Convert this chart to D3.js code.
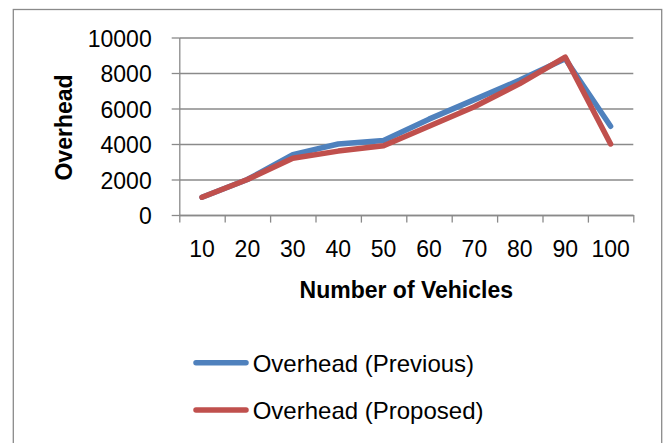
<!DOCTYPE html>
<html>
<head>
<meta charset="utf-8">
<script src="https://cdn.jsdelivr.net/npm/d3@7"></script>
<style>
  html, body { margin: 0; padding: 0; background: #fff; }
  svg { display: block; font-family: "Liberation Sans", Arial, sans-serif; }
</style>
</head>
<body>
<svg id="chart" width="666" height="443"></svg>
<script>
// Number of vehicles on the x axis
const vehicles = [10, 20, 30, 40, 50, 60, 70, 80, 90, 100];
// Overhead per scheme
const overheadPrevious = [1000, 2000, 3400, 4000, 4200, 5400, 6500, 7600, 8800, 5000];
const overheadProposed = [1000, 2000, 3200, 3600, 3900, 5000, 6100, 7400, 8900, 4000];
// Y axis tick values
const yTicks = [0, 2000, 4000, 6000, 8000, 10000];
const seriesNames = ["Overhead (Previous)", "Overhead (Proposed)"];
const seriesColors = ["#4F81BD", "#C0504D"];

const svg = d3.select("#chart");
const gridColor = "#8a8a8a";
const fontStack = "'Liberation Sans', Arial, sans-serif";

// outer chart frame
svg.append("rect")
  .attr("x", 13.3).attr("y", 9.5)
  .attr("width", 648.4).attr("height", 460)
  .attr("fill", "#fff")
  .attr("stroke", gridColor).attr("stroke-width", 1.3);

const plotLeft = 179.3, plotRight = 633.3, plotTop = 37.5, plotBottom = 215;

const x = d3.scaleBand().domain(vehicles).range([plotLeft, plotRight]).padding(0);
const xEdge = d3.scaleLinear().domain([0, vehicles.length]).range([plotLeft, plotRight]);
const y = d3.scaleLinear().domain([0, 10000]).range([plotBottom, plotTop]);

// horizontal gridlines
svg.append("g")
  .attr("transform", `translate(${plotLeft},0)`)
  .call(d3.axisLeft(y).tickValues(yTicks).tickSize(-(plotRight - plotLeft)).tickFormat(""))
  .call(g => g.select(".domain").remove())
  .call(g => g.selectAll("line").attr("stroke", gridColor).attr("stroke-width", 1.3));

// y axis with outward ticks and labels
svg.append("g")
  .attr("transform", `translate(${plotLeft},0)`)
  .call(d3.axisLeft(y).tickValues(yTicks).tickFormat(d3.format("d"))
    .tickSize(7.6).tickPadding(20).tickSizeOuter(0))
  .call(g => g.select(".domain").attr("stroke", gridColor).attr("stroke-width", 1.3))
  .call(g => g.selectAll("line").attr("stroke", gridColor).attr("stroke-width", 1.3))
  .call(g => g.selectAll("text").attr("font-size", 23).attr("fill", "#000")
    .attr("font-family", fontStack).attr("dy", "0.38em"));

// x axis: tick marks on category boundaries
svg.append("g")
  .attr("transform", `translate(0,${plotBottom})`)
  .call(d3.axisBottom(xEdge).tickValues(d3.range(vehicles.length + 1)).tickSize(7.6).tickFormat("").tickSizeOuter(0))
  .call(g => g.select(".domain").attr("stroke", gridColor).attr("stroke-width", 1.3))
  .call(g => g.selectAll("line").attr("stroke", gridColor).attr("stroke-width", 1.3));

// x axis: category labels centred in each band
svg.append("g")
  .attr("transform", `translate(0,${plotBottom})`)
  .call(d3.axisBottom(x).tickSize(0).tickPadding(26))
  .call(g => g.select(".domain").remove())
  .call(g => g.selectAll("text").attr("font-size", 23).attr("fill", "#000")
    .attr("font-family", fontStack));

// axis titles
svg.append("text")
  .attr("transform", "translate(72,127.5) rotate(-90)")
  .attr("text-anchor", "middle")
  .attr("font-size", 23).attr("font-weight", "bold")
  .text("Overhead");

svg.append("text")
  .attr("x", (plotLeft + plotRight) / 2).attr("y", 297.5)
  .attr("text-anchor", "middle")
  .attr("font-size", 23).attr("font-weight", "bold")
  .text("Number of Vehicles");

// series lines
const line = d3.line()
  .x((d, i) => x(vehicles[i]) + x.bandwidth() / 2)
  .y(d => y(d));

[overheadPrevious, overheadProposed].forEach((vals, k) => {
  svg.append("path")
    .datum(vals)
    .attr("d", line)
    .attr("fill", "none")
    .attr("stroke", seriesColors[k])
    .attr("stroke-width", 5.5)
    .attr("stroke-linejoin", "round")
    .attr("stroke-linecap", "round");
});

// legend
const legendY = [362.7, 410];
seriesNames.forEach((name, k) => {
  svg.append("line")
    .attr("x1", 196).attr("x2", 246)
    .attr("y1", legendY[k]).attr("y2", legendY[k])
    .attr("stroke", seriesColors[k])
    .attr("stroke-width", 5.5)
    .attr("stroke-linecap", "round");
  svg.append("text")
    .attr("x", 252.7).attr("y", legendY[k] + 8.8)
    .attr("font-size", 24)
    .text(name);
});
</script>
</body>
</html>
